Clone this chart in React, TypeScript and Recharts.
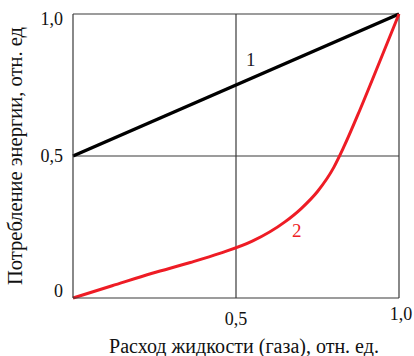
import React from 'react';
import { LineChart, Line, XAxis, YAxis, ReferenceLine, ReferenceDot } from 'recharts';

// line 1: energy use with throttling (straight line)
const line1X = [0, 1];
const line1Y = [0.5, 1];

// line 2: energy use with speed control (curve)
const line2X = [0, 0.12, 0.243, 0.36, 0.45, 0.55, 0.65, 0.7, 0.75, 0.8, 0.83, 0.88, 0.94, 1];
const line2Y = [0, 0.043, 0.087, 0.125, 0.157, 0.2, 0.268, 0.315, 0.375, 0.46, 0.53, 0.662, 0.83, 1];

const xTicks = [0.5, 1];
const yTicks = [0, 0.5, 1];

const xTitle = 'Расход жидкости (газа), отн. ед.';
const yTitle = 'Потребление энергии, отн. ед';

const series1 = line1X.map((x, i) => ({ x, y: line1Y[i] }));
const series2 = line2X.map((x, i) => ({ x, y: line2Y[i] }));

const fmt = (v: number) => (v === 0 ? '0' : v.toFixed(1).replace('.', ','));

const FONT = 'Liberation Serif, Times New Roman, serif';
const FRAME = '#3a3a3a';
const TXT = '#111';

const YTick = (props: any) => {
  const { x, y, payload } = props;
  let dy = 6;
  if (payload.value === 1) dy = 11;
  if (payload.value === 0) dy = -1;
  return (
    <text x={x - 2} y={y + dy} textAnchor="end" fontSize={18} fontFamily={FONT} style={{ fontFamily: FONT }} fill={TXT}>
      {fmt(payload.value)}
    </text>
  );
};

const XTick = (props: any) => {
  const { x, y, payload } = props;
  const dy = payload.value === 1 ? 14 : 19;
  const dx = payload.value === 1 ? 2 : 0;
  return (
    <text x={x + dx} y={y + dy} textAnchor="middle" fontSize={18} fontFamily={FONT} style={{ fontFamily: FONT }} fill={TXT}>
      {fmt(payload.value)}
    </text>
  );
};

const XTitle = () => (
  <text x={244} y={353} textAnchor="middle" fontSize={20} style={{ fontFamily: FONT }} fill={TXT}>
    {xTitle}
  </text>
);

const YTitle = () => (
  <text x={22} y={156} textAnchor="middle" fontSize={20.5} transform="rotate(-90 22 156)" style={{ fontFamily: FONT }} fill={TXT}>
    {yTitle}
  </text>
);

export default function App() {
  return (
    <div style={{ position: 'absolute', left: 0, top: 0, background: '#fff', fontFamily: FONT }}>
      <LineChart width={414} height={356} margin={{ top: 14, right: 15, bottom: 0, left: 0 }}>
        <XAxis
          type="number"
          dataKey="x"
          domain={[0, 1]}
          ticks={xTicks}
          tick={<XTick />}
          tickLine={false}
          axisLine={{ stroke: FRAME, strokeWidth: 1.2 }}
          height={58}
          allowDuplicatedCategory={false}
          label={{ content: <XTitle /> }}
        />
        <YAxis
          type="number"
          dataKey="y"
          domain={[0, 1]}
          ticks={yTicks}
          tick={<YTick />}
          tickLine={false}
          axisLine={{ stroke: FRAME, strokeWidth: 1.2 }}
          width={73}
          label={{ content: <YTitle /> }}
        />
        <ReferenceLine x={0.5} stroke={FRAME} strokeWidth={1.2} />
        <ReferenceLine x={1} stroke={FRAME} strokeWidth={1.2} />
        <ReferenceLine y={0.5} stroke={FRAME} strokeWidth={1.2} />
        <ReferenceLine y={1} stroke={FRAME} strokeWidth={1.2} />
        <Line
          data={series1}
          dataKey="y"
          type="linear"
          stroke="#000"
          strokeWidth={3.5}
          dot={false}
          isAnimationActive={false}
        />
        <Line
          data={series2}
          dataKey="y"
          type="monotone"
          stroke="#ee1c25"
          strokeWidth={3}
          dot={false}
          isAnimationActive={false}
        />
        <ReferenceDot x={0.545} y={0.84} r={0} label={{ value: '1', fontSize: 19, fontFamily: FONT, style: { fontFamily: FONT }, fill: '#1a1a2a' }} />
        <ReferenceDot x={0.686} y={0.24} r={0} label={{ value: '2', fontSize: 19, fontFamily: FONT, style: { fontFamily: FONT }, fill: '#ee1c25' }} />
      </LineChart>
    </div>
  );
}
